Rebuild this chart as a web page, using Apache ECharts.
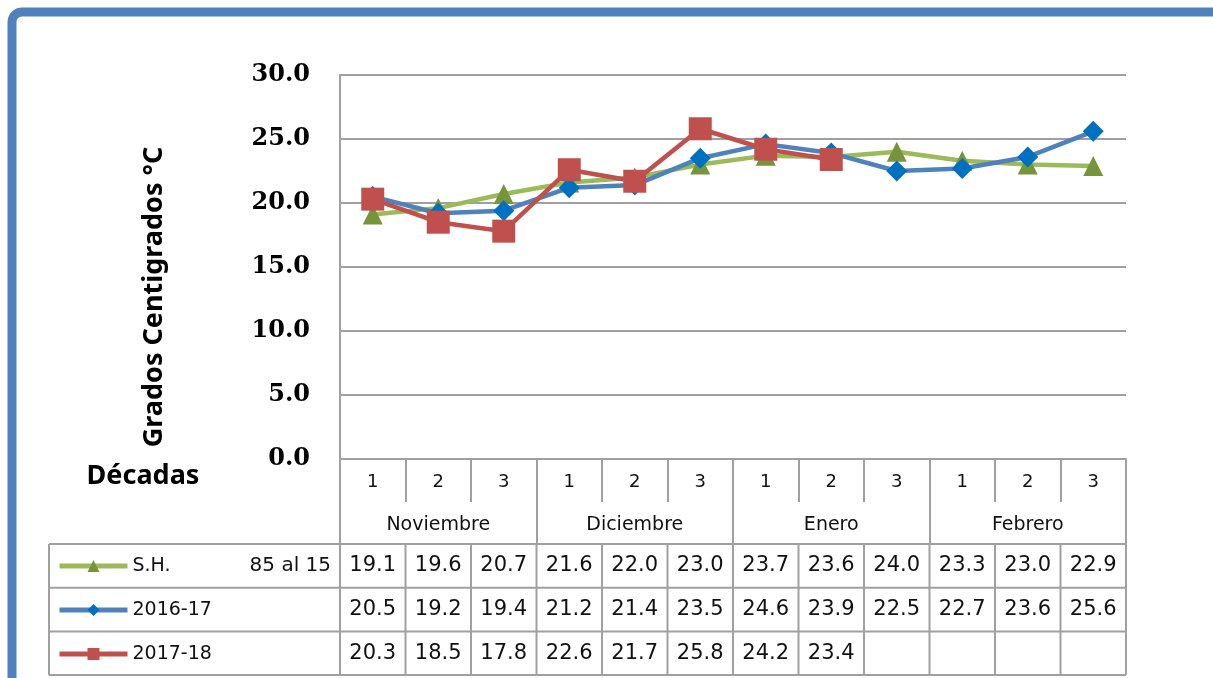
<!DOCTYPE html>
<html>
<head>
<meta charset="utf-8">
<script src="https://cdn.jsdelivr.net/npm/echarts@6/dist/echarts.min.js"></script>
<style>
html,body{margin:0;padding:0;background:#fff;}
#chart{width:1213px;height:678px;}
</style>
</head>
<body>
<div id="chart"></div>
<script>
// ---- data ----
const decades = ['1','2','3','1','2','3','1','2','3','1','2','3'];
const months = ['Noviembre','Diciembre','Enero','Febrero'];
const seriesNames = ['S.H.','2016-17','2017-18'];
const seriesNote = ['85 al 15','',''];
const sh = [19.1,19.6,20.7,21.6,22.0,23.0,23.7,23.6,24.0,23.3,23.0,22.9];
const y1617 = [20.5,19.2,19.4,21.2,21.4,23.5,24.6,23.9,22.5,22.7,23.6,25.6];
const y1718 = [20.3,18.5,17.8,22.6,21.7,25.8,24.2,23.4];
const yTicks = [0,5,10,15,20,25,30];
const allValues = [sh, y1617, y1718];

const gridColor = '#a0a0a0';
const chart = echarts.init(document.getElementById('chart'));

const option = {
  animation: false,
  backgroundColor: '#fff',
  grid: {left: 340, right: 87, top: 75, bottom: 219},
  xAxis: [{
    type: 'category',
    data: decades,
    boundaryGap: true,
    position: 'bottom',
    axisLine: {show: true, lineStyle: {color: gridColor, width: 2}},
    axisTick: {show: true, interval: 0, length: 43, lineStyle: {color: gridColor, width: 2}},
    axisLabel: {interval: 0, margin: 14, fontFamily: 'DejaVu Sans', fontSize: 18, color: '#111'},
    splitLine: {show: false}
  }, {
    type: 'category',
    data: months,
    boundaryGap: true,
    position: 'bottom',
    axisLine: {show: false},
    axisTick: {show: true, interval: 0, length: 85, lineStyle: {color: gridColor, width: 2}},
    axisLabel: {interval: 0, margin: 57, fontFamily: 'DejaVu Sans', fontSize: 19, color: '#111'},
    splitLine: {show: false}
  }],
  yAxis: {
    type: 'value',
    min: yTicks[0],
    max: yTicks[yTicks.length - 1],
    interval: 5,
    name: 'Grados Centigrados °C',
    nameLocation: 'middle',
    nameRotate: 90,
    nameGap: 172,
    nameTextStyle: {fontFamily: 'Noto Sans', fontWeight: 'bold', fontSize: 27, color: '#000',
      padding: [0, 60, 0, 0]},
    axisLine: {show: true, lineStyle: {color: gridColor, width: 2}},
    axisTick: {show: false},
    axisLabel: {margin: 30, fontFamily: 'DejaVu Serif', fontWeight: 'bold', fontSize: 24, color: '#000',
      formatter: v => v.toFixed(1)},
    splitLine: {show: true, lineStyle: {color: gridColor, width: 2}}
  },
  legend: {
    orient: 'vertical',
    left: 57,
    top: 556,
    padding: 0,
    itemWidth: 68,
    itemHeight: 15,
    itemGap: 24,
    lineStyle: {width: 5},
    textStyle: {fontFamily: 'DejaVu Sans', fontSize: 19, color: '#111', lineHeight: 20},
    data: seriesNames
  },
  series: [{
    name: seriesNames[0], type: 'line', data: sh,
    symbol: 'triangle', symbolSize: 20,
    lineStyle: {color: '#9BBB59', width: 4.5},
    itemStyle: {color: '#77933C'},
    z: 2
  }, {
    name: seriesNames[1], type: 'line', data: y1617,
    symbol: 'diamond', symbolSize: 21,
    lineStyle: {color: '#4F81BD', width: 4.5},
    itemStyle: {color: '#0070C0'},
    z: 3
  }, {
    name: seriesNames[2], type: 'line', data: y1718,
    symbol: 'rect', symbolSize: 23,
    lineStyle: {color: '#C0504D', width: 4.5},
    itemStyle: {color: '#C0504D'},
    z: 4
  }]
};
chart.setOption(option);

// ---- table below the chart, positioned from the axes ----
const x0 = chart.convertToPixel({xAxisIndex: 0}, 0);
const x1 = chart.convertToPixel({xAxisIndex: 0}, 1);
const colW = x1 - x0;
const plotLeft = x0 - colW / 2;
const plotRight = plotLeft + colW * decades.length;
const yBase = chart.convertToPixel({yAxisIndex: 0}, 0);
const headerH = 85;
const rowH = 43.7;
const tableLeft = 49;
const rowTop = yBase + headerH;

const g = [];
const ls = {stroke: gridColor, lineWidth: 2};
// outer frame
g.push({type: 'rect', shape: {x: 12, y: 12, width: 1400, height: 900, r: 10},
  style: {fill: null, stroke: '#4F81BD', lineWidth: 9}, silent: true, z: 100});
// horizontal lines
for (let r = 0; r <= allValues.length; r++) {
  const y = rowTop + r * rowH;
  g.push({type: 'line', shape: {x1: tableLeft, y1: y, x2: plotRight, y2: y}, style: ls, z: 50});
}
// vertical lines
g.push({type: 'line', shape: {x1: tableLeft, y1: rowTop, x2: tableLeft, y2: rowTop + rowH * 3}, style: ls, z: 50});
for (let c = 0; c <= decades.length; c++) {
  const x = plotLeft + c * colW;
  g.push({type: 'line', shape: {x1: x, y1: rowTop, x2: x, y2: rowTop + rowH * 3}, style: ls, z: 50});
}
// values
allValues.forEach((arr, r) => {
  arr.forEach((v, c) => {
    g.push({type: 'text', x: plotLeft + (c + 0.5) * colW, y: rowTop + (r + 0.5) * rowH,
      style: {text: v.toFixed(1), fill: '#111', font: '21px "DejaVu Sans"', align: 'center', verticalAlign: 'middle'}, z: 50});
  });
  if (seriesNote[r]) {
    g.push({type: 'text', x: plotLeft - 9, y: rowTop + (r + 0.5) * rowH,
      style: {text: seriesNote[r], fill: '#111', font: '20px "DejaVu Sans"', align: 'right', verticalAlign: 'middle'}, z: 50});
  }
});
// "Décadas"
g.push({type: 'text', x: 143, y: yBase + 17,
  style: {text: 'Décadas', fill: '#000', font: 'bold 27px "Noto Sans"', align: 'center', verticalAlign: 'middle'}, z: 50});

chart.setOption({graphic: g});
</script>
</body>
</html>
